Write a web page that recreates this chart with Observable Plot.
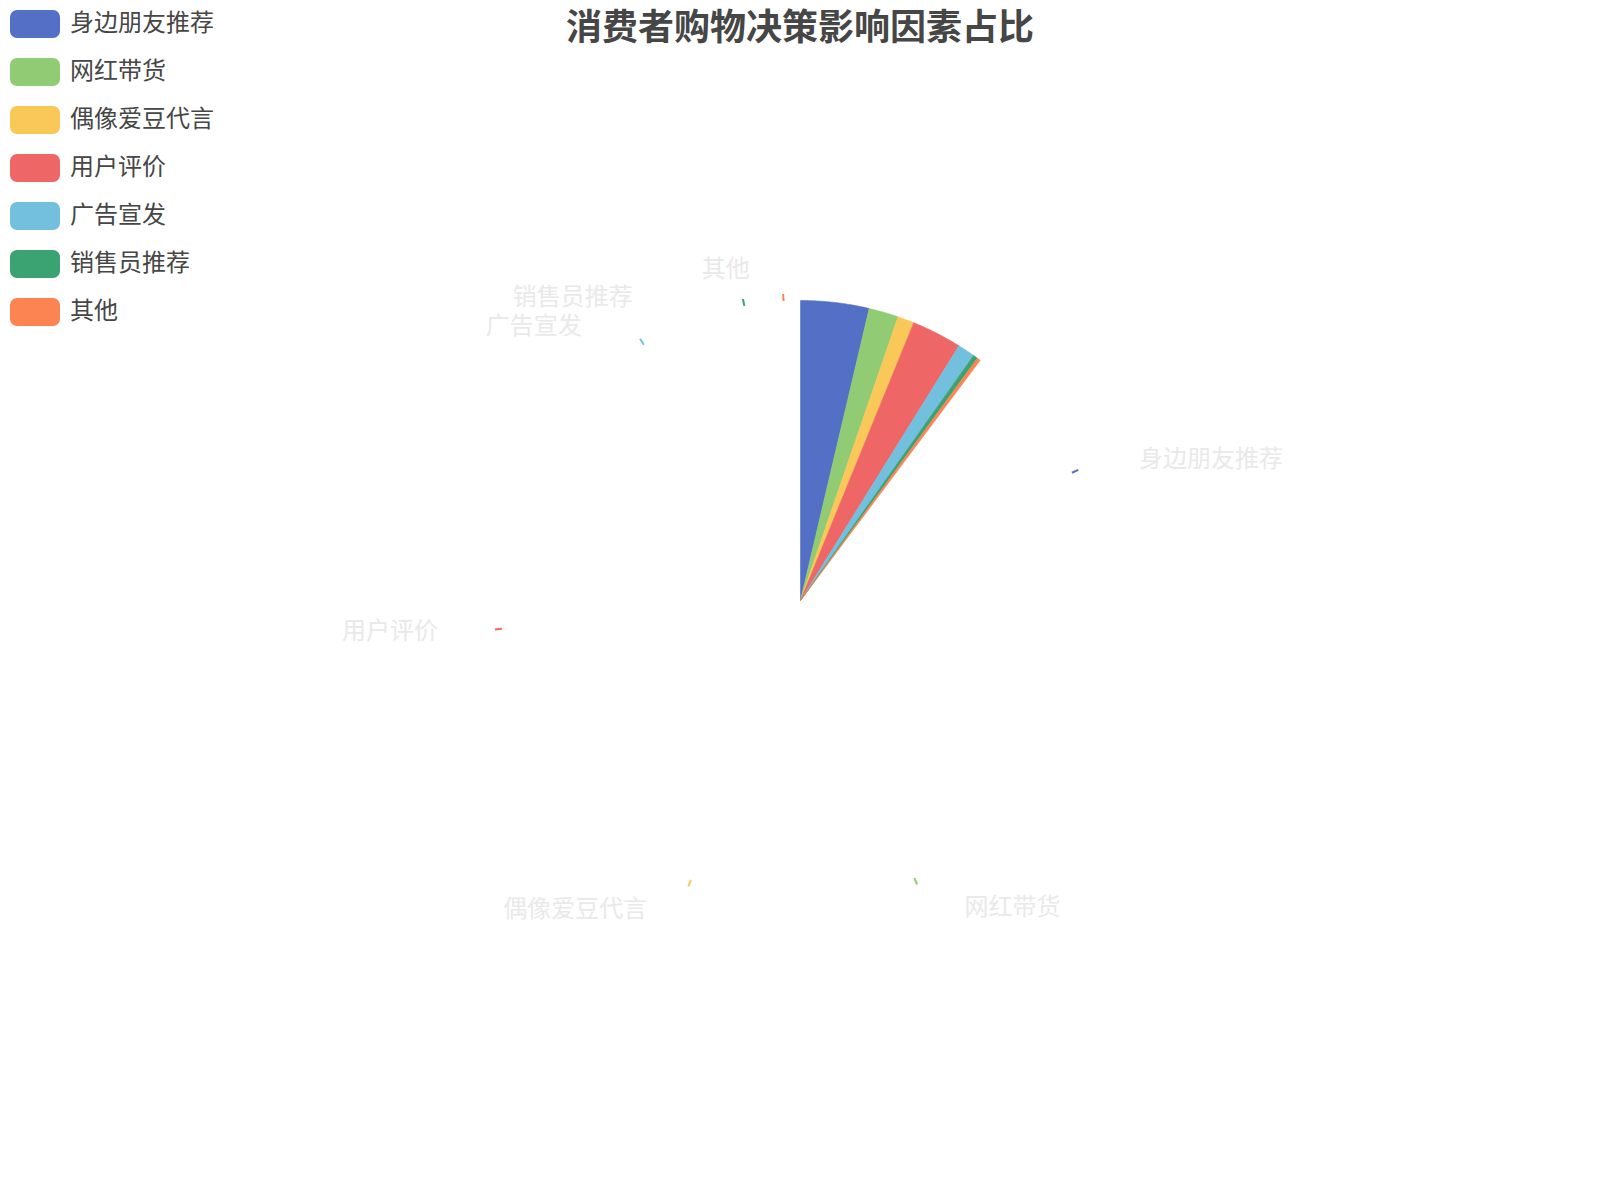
<!DOCTYPE html>
<html>
<head>
<meta charset="utf-8">
<script src="https://cdn.jsdelivr.net/npm/d3@7"></script>
<script src="https://cdn.jsdelivr.net/npm/@observablehq/plot@0.6"></script>
<style>
  body { margin: 0; background: #fff; font-family: "Noto Sans CJK SC", "Noto Sans", sans-serif; }
  #wrap { position: relative; width: 1600px; height: 1200px; overflow: hidden; }
  #chart { position: absolute; left: 0; top: 0; }
  #title { position: absolute; top: 2px; left: 0; width: 1600px; text-align: center; font-size: 36px; font-weight: bold; color: #464646; line-height: 44px; }
  #legend { position: absolute; left: 10px; top: 10px; }
  .item { display: flex; align-items: center; height: 28px; margin-bottom: 20px; font-size: 24px; color: #464646; white-space: nowrap; }
  .item span { position: relative; top: -3px; line-height: 28px; }
  .sw { width: 50px; height: 28px; border-radius: 7px; margin-right: 10px; }
</style>
</head>
<body>
<div id="wrap">
  <div id="chart"></div>
  <div id="title"></div>
  <div id="legend"></div>
</div>
<script>
const chartTitle = "消费者购物决策影响因素占比";
const categories = ["身边朋友推荐", "网红带货", "偶像爱豆代言", "用户评价", "广告宣发", "销售员推荐", "其他"];
const values = [36, 15.6, 8.7, 26.4, 9.1, 2.4, 1.8];
const colors = ["#5470c6", "#91cc75", "#fac858", "#ee6666", "#73c0de", "#3ba272", "#fc8452"];
// fraction of the opening sweep captured in the picture
const animationProgress = 0.1022;

const radius = 300, labelRadius = 332, labelGapRight = 38, labelGapLeft = 32, labelHeight = 28.5;

const arcs = d3.pie().sort(null).startAngle(0).endAngle(2 * Math.PI)(values);

// slice polygons (data space: origin at pie centre, y up)
const slicePts = [];
arcs.forEach((a, i) => {
  const s = a.startAngle * animationProgress, e = a.endAngle * animationProgress;
  const n = Math.max(2, Math.ceil((e - s) / (Math.PI / 720)));
  slicePts.push({name: categories[i], x: 0, y: 0});
  for (let k = 0; k <= n; k++) {
    const t = s + (e - s) * k / n;
    slicePts.push({name: categories[i], x: radius * Math.sin(t), y: radius * Math.cos(t)});
  }
  slicePts.push({name: categories[i], x: 0, y: 0});
});

// label-line stubs and labels at final mid angles
const stubs = arcs.map((a, i) => {
  const m = (a.startAngle + a.endAngle) / 2;
  return {name: categories[i],
    x1: radius * Math.sin(m), y1: radius * Math.cos(m),
    x2: (radius + 7) * Math.sin(m), y2: (radius + 7) * Math.cos(m)};
});
let labels = arcs.map((a, i) => {
  const m = (a.startAngle + a.endAngle) / 2;
  return {name: categories[i], right: Math.sin(m) >= 0, lx: labelRadius * Math.sin(m), ly: labelRadius * Math.cos(m)};
});
for (const side of [true, false]) {
  const group = labels.filter(d => d.right === side).sort((a, b) => b.ly - a.ly);
  for (let i = 1; i < group.length; i++) {
    if (group[i - 1].ly - group[i].ly < labelHeight) {
      group[i].ly = group[i - 1].ly - labelHeight;
      const h = Math.sqrt(Math.max(0, labelRadius * labelRadius - group[i].ly * group[i].ly));
      group[i].lx = side ? h : -h;
    }
  }
}
labels.forEach(d => { d.tx = d.lx + (d.right ? labelGapRight : -labelGapLeft); });

const plot = Plot.plot({
  width: 1600, height: 1200,
  marginTop: 0, marginRight: 0, marginBottom: 0, marginLeft: 0,
  x: {domain: [-800, 800], axis: null},
  y: {domain: [-600, 600], axis: null},
  color: {domain: categories, range: colors},
  marks: [
    Plot.line(slicePts, {x: "x", y: "y", z: "name", fill: "name", stroke: "name", strokeWidth: 0.6, curve: "linear"}),
    Plot.link(stubs, {x1: "x1", y1: "y1", x2: "x2", y2: "y2", stroke: "name", strokeWidth: 2}),
    Plot.text(labels.filter(d => d.right), {x: "tx", y: "ly", text: "name", textAnchor: "start", fontSize: 24, fill: "#e9e9e9", fontFamily: "Noto Sans CJK SC"}),
    Plot.text(labels.filter(d => !d.right), {x: "tx", y: "ly", text: "name", textAnchor: "end", fontSize: 24, fill: "#e9e9e9", fontFamily: "Noto Sans CJK SC"})
  ]
});
document.getElementById("chart").appendChild(plot);
document.getElementById("title").textContent = chartTitle;

const legend = document.getElementById("legend");
categories.forEach((c, i) => {
  const item = document.createElement("div");
  item.className = "item";
  const sw = document.createElement("div");
  sw.className = "sw";
  sw.style.background = colors[i];
  const tx = document.createElement("span");
  tx.textContent = c;
  item.appendChild(sw);
  item.appendChild(tx);
  legend.appendChild(item);
});
</script>
</body>
</html>
